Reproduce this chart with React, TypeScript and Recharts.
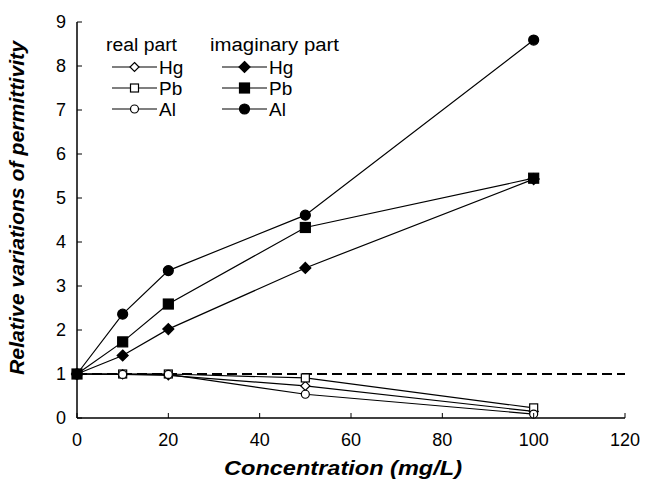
import {
  LineChart,
  Line,
  XAxis,
  YAxis,
  ReferenceLine,
} from 'recharts'

const concentrations = [0, 10, 20, 50, 100]
const realHg = [1, 0.99, 0.97, 0.73, 0.15]
const realPb = [1, 1.0, 1.0, 0.91, 0.23]
const realAl = [1, 0.99, 0.99, 0.54, 0.09]
const imagHg = [1, 1.42, 2.02, 3.41, 5.43]
const imagPb = [1, 1.73, 2.59, 4.33, 5.45]
const imagAl = [1, 2.36, 3.35, 4.61, 8.59]
const xTicks = [0, 20, 40, 60, 80, 100, 120]
const yTicks = [0, 1, 2, 3, 4, 5, 6, 7, 8, 9]
const metals = ['Hg', 'Pb', 'Al']

const FONT = '"Liberation Sans", Arial, Helvetica, sans-serif'
const TICK_GAP = 15
const Y_GAP = 11

type Shape = 'diamond' | 'square' | 'circle'
const shapes: Shape[] = ['diamond', 'square', 'circle']

const data = concentrations.map((c, i) => ({
  conc: c,
  realHg: realHg[i],
  realPb: realPb[i],
  realAl: realAl[i],
  imagHg: imagHg[i],
  imagPb: imagPb[i],
  imagAl: imagAl[i],
}))

function Marker({ cx, cy, shape, filled }: { cx: number; cy: number; shape: Shape; filled: boolean }) {
  const fill = filled ? '#000' : '#fff'
  const sw = 1.2
  if (shape === 'circle') {
    const r = filled ? 5 : 4
    return <circle cx={cx} cy={cy} r={r} fill={fill} stroke="#000" strokeWidth={sw} />
  }
  if (shape === 'square') {
    const h = filled ? 5 : 4
    return <rect x={cx - h} y={cy - h} width={h * 2} height={h * 2} fill={fill} stroke="#000" strokeWidth={sw} />
  }
  const h = filled ? 5.5 : 4.5
  return (
    <polygon
      points={`${cx},${cy - h} ${cx + h},${cy} ${cx},${cy + h} ${cx - h},${cy}`}
      fill={fill}
      stroke="#000"
      strokeWidth={sw}
    />
  )
}

const XTick = ({ x, y, payload }: any) => (
  <g>
    <line x1={x} x2={x} y1={y - TICK_GAP} y2={y - TICK_GAP - 5} stroke="#000" strokeWidth={1} />
    <text x={x} y={y} dy="0.71em" textAnchor="middle" fontSize={18} fontFamily={FONT} fill="#000">
      {payload.value}
    </text>
  </g>
)

const YTick = ({ x, y, payload }: any) => (
  <g>
    <line x1={x + Y_GAP} x2={x + Y_GAP + 5} y1={y} y2={y} stroke="#000" strokeWidth={1} />
    <text x={x} y={y} dy="0.355em" textAnchor="end" fontSize={18} fontFamily={FONT} fill="#000">
      {payload.value}
    </text>
  </g>
)

function series(key: string, shape: Shape, filled: boolean) {
  return (
    <Line
      key={key}
      dataKey={key}
      type="linear"
      stroke="#000"
      strokeWidth={1.2}
      isAnimationActive={false}
      dot={(p: any) => <Marker key={p.index} cx={p.cx} cy={p.cy} shape={shape} filled={filled} />}
      activeDot={false}
    />
  )
}

function LegendOverlay() {
  const rows = [67, 88, 109]
  const cols = [
    { title: 'real part', tx: 106, len: 71, x1: 112, x2: 157, filled: false },
    { title: 'imaginary part', tx: 210, len: 129, x1: 222, x2: 267, filled: true },
  ]
  return (
    <svg
      width={645}
      height={487}
      style={{ position: 'absolute', left: 0, top: 0, pointerEvents: 'none' }}
    >
      {cols.map((c) => (
        <g key={c.title}>
          <text
            x={c.tx}
            y={45}
            dy="0.355em"
            fontSize={18}
            fontFamily={FONT}
            fill="#000"
            textLength={c.len}
            lengthAdjust="spacingAndGlyphs"
          >
            {c.title}
          </text>
          {metals.map((m, i) => (
            <g key={m}>
              <line x1={c.x1} x2={c.x2} y1={rows[i]} y2={rows[i]} stroke="#000" strokeWidth={1.2} />
              <Marker cx={(c.x1 + c.x2) / 2} cy={rows[i]} shape={shapes[i]} filled={c.filled} />
              <text x={c.x2 + 2} y={rows[i]} dy="0.355em" fontSize={19} fontFamily={FONT} fill="#000">
                {m}
              </text>
            </g>
          ))}
        </g>
      ))}
    </svg>
  )
}

export default function App() {
  return (
    <div style={{ position: 'absolute', left: 0, top: 0, width: 645, height: 487, background: '#fff' }}>
      <LineChart width={645} height={487} data={data} margin={{ top: 22, right: 20, left: 0, bottom: 0 }}>
        <XAxis
          dataKey="conc"
          type="number"
          domain={[0, 120]}
          ticks={xTicks}
          height={69}
          tickSize={0}
          tickMargin={TICK_GAP}
          tick={<XTick />}
          axisLine={{ stroke: '#000', strokeWidth: 1.5 }}
          label={{
            content: ({ viewBox }: any) => (
              <text
                x={viewBox.x + viewBox.width / 2 - 8}
                y={viewBox.y + 50}
                dy="0.355em"
                textAnchor="middle"
                fontSize={20}
                fontWeight="bold"
                fontStyle="italic"
                fontFamily={FONT}
                fill="#000"
                textLength={238}
                lengthAdjust="spacingAndGlyphs"
              >
                Concentration (mg/L)
              </text>
            ),
          }}
        />
        <XAxis xAxisId="top" orientation="top" type="number" domain={[0, 120]} height={0} tick={false} axisLine={{ stroke: '#555', strokeWidth: 1.5 }} />
        <YAxis
          type="number"
          domain={[0, 9]}
          ticks={yTicks}
          width={77}
          tickSize={0}
          tickMargin={Y_GAP}
          tick={<YTick />}
          axisLine={{ stroke: '#000', strokeWidth: 1.5 }}
          label={{
            content: ({ viewBox }: any) => {
              const cx = viewBox.x + 17
              const cy = viewBox.y + viewBox.height / 2 - 12
              return (
                <text
                  x={cx}
                  y={cy}
                  dy="0.355em"
                  transform={`rotate(-90 ${cx} ${cy})`}
                  textAnchor="middle"
                  fontSize={20}
                  fontWeight="bold"
                  fontStyle="italic"
                  fontFamily={FONT}
                  fill="#000"
                  textLength={334}
                  lengthAdjust="spacingAndGlyphs"
                >
                  Relative variations of permittivity
                </text>
              )
            },
          }}
        />
        <YAxis yAxisId="right" orientation="right" domain={[0, 9]} width={0} tick={false} axisLine={{ stroke: '#000', strokeWidth: 1.2 }} />
        <ReferenceLine y={1} stroke="#000" strokeWidth={2} strokeDasharray="10 5" />
        {series('realHg', 'diamond', false)}
        {series('realPb', 'square', false)}
        {series('realAl', 'circle', false)}
        {series('imagHg', 'diamond', true)}
        {series('imagPb', 'square', true)}
        {series('imagAl', 'circle', true)}
      </LineChart>
      <LegendOverlay />
    </div>
  )
}
